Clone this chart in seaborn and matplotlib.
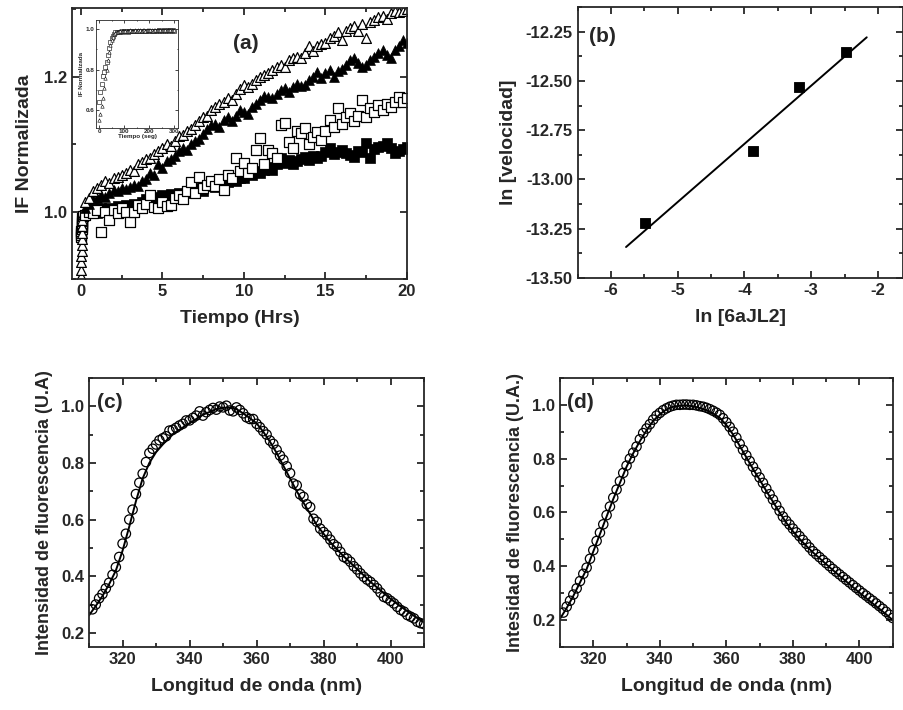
import matplotlib
matplotlib.use("Agg")
import matplotlib.pyplot as plt
import seaborn as sns
from matplotlib.ticker import MultipleLocator, FormatStrFormatter

sns.set_style("ticks")
plt.rcParams['font.family'] = ['Liberation Sans', 'DejaVu Sans']
plt.rcParams['font.weight'] = 'bold'
plt.rcParams['axes.labelweight'] = 'bold'

# ---------------- Panel (a) data ----------------
tiempo_hrs = [0.25, 0.5, 0.75, 1.0, 1.25, 1.5, 1.75, 2.0, 2.25, 2.5, 2.75, 3.0, 3.25, 3.5, 3.75, 4.0,
              4.25, 4.5, 4.75, 5.0, 5.25, 5.5, 5.75, 6.0, 6.25, 6.5, 6.75, 7.0, 7.25, 7.5, 7.75, 8.0,
              8.25, 8.5, 8.75, 9.0, 9.25, 9.5, 9.75, 10.0, 10.25, 10.5, 10.75, 11.0, 11.25, 11.5, 11.75, 12.0,
              12.25, 12.5, 12.75, 13.0, 13.25, 13.5, 13.75, 14.0, 14.25, 14.5, 14.75, 15.0, 15.25, 15.5, 15.75, 16.0,
              16.25, 16.5, 16.75, 17.0, 17.25, 17.5, 17.75, 18.0, 18.25, 18.5, 18.75, 19.0, 19.25, 19.5, 19.75, 20.0]

tri_abierto = [1.015, 1.02, 1.03, 1.035, 1.04, 1.045, 1.043, 1.05, 1.052, 1.055, 1.058, 1.062, 1.06, 1.07, 1.074, 1.078,
               1.08, 1.085, 1.09, 1.095, 1.1, 1.098, 1.105, 1.112, 1.114, 1.12, 1.122, 1.128, 1.134, 1.14, 1.142, 1.15,
               1.155, 1.16, 1.162, 1.168, 1.165, 1.175, 1.182, 1.188, 1.185, 1.19, 1.195, 1.2, 1.203, 1.205, 1.21, 1.214,
               1.218, 1.215, 1.225, 1.228, 1.23, 1.228, 1.235, 1.245, 1.238, 1.245, 1.248, 1.25, 1.258, 1.26, 1.266, 1.255,
               1.268, 1.272, 1.275, 1.268, 1.278, 1.258, 1.282, 1.284, 1.288, 1.29, 1.286, 1.294, 1.298, 1.296, 1.298, 1.3]

tri_lleno = [1.005, 1.012, 1.018, 1.02, 1.025, 1.022, 1.028, 1.032, 1.03, 1.035, 1.033, 1.037, 1.04, 1.038, 1.045, 1.048,
             1.058, 1.055, 1.07, 1.065, 1.075, 1.078, 1.082, 1.09, 1.095, 1.092, 1.1, 1.105, 1.108, 1.115, 1.122, 1.128,
             1.13, 1.125, 1.136, 1.14, 1.135, 1.142, 1.15, 1.148, 1.145, 1.155, 1.16, 1.165, 1.172, 1.17, 1.168, 1.175,
             1.18, 1.183, 1.178, 1.185, 1.19, 1.186, 1.188, 1.195, 1.2, 1.207, 1.198, 1.205, 1.21, 1.2, 1.208, 1.212,
             1.218, 1.225, 1.228, 1.22, 1.215, 1.218, 1.225, 1.23, 1.236, 1.24, 1.232, 1.228, 1.24, 1.245, 1.254, 1.25]

cuad_abierto = [0.995, 1.0, 0.998, 1.002, 0.97, 1.0, 0.988, 1.003, 0.998, 1.005, 1.0, 0.984, 1.0, 1.01, 1.005, 1.012,
                1.025, 1.007, 1.005, 1.015, 1.008, 1.01, 1.02, 1.025, 1.018, 1.03, 1.044, 1.028, 1.052, 1.035, 1.04, 1.045,
                1.038, 1.048, 1.032, 1.055, 1.05, 1.08, 1.06, 1.072, 1.058, 1.065, 1.092, 1.109, 1.07, 1.092, 1.087, 1.08,
                1.128, 1.131, 1.103, 1.095, 1.12, 1.117, 1.124, 1.1, 1.111, 1.118, 1.106, 1.12, 1.136, 1.125, 1.153, 1.13,
                1.14, 1.146, 1.135, 1.142, 1.165, 1.14, 1.153, 1.148, 1.158, 1.15, 1.16, 1.155, 1.163, 1.17, 1.162, 1.168]

cuad_lleno = [0.995, 1.0, 1.004, 0.998, 1.005, 1.0, 1.006, 1.003, 1.008, 1.006, 1.01, 1.007, 1.012, 1.01, 1.015, 1.018,
              1.014, 1.02, 1.022, 1.025, 1.02, 1.026, 1.024, 1.028, 1.025, 1.03, 1.027, 1.032, 1.035, 1.03, 1.038, 1.04,
              1.036, 1.042, 1.045, 1.044, 1.048, 1.046, 1.05, 1.05, 1.058, 1.055, 1.06, 1.058, 1.062, 1.066, 1.062, 1.07,
              1.08, 1.072, 1.077, 1.07, 1.075, 1.078, 1.081, 1.076, 1.082, 1.079, 1.083, 1.088, 1.095, 1.085, 1.089, 1.092,
              1.087, 1.084, 1.081, 1.09, 1.088, 1.102, 1.08, 1.093, 1.096, 1.098, 1.102, 1.094, 1.087, 1.09, 1.093, 1.096]

# early-time stack visible at t ~ 0 in the main panel
inicio_hrs = [0.0, 0.01, 0.02, 0.03, 0.04, 0.05, 0.06, 0.07, 0.08, 0.09, 0.1]
inicio_tri = [0.905, 0.914, 0.925, 0.934, 0.941, 0.951, 0.96, 0.969, 0.978, 0.987, 0.996]
inicio_cuad = [0.962, 0.965, 0.968, 0.971, 0.974, 0.977, 0.98, 0.983, 0.986, 0.99, 0.994]

# Inset (first seconds)
tiempo_seg = [0, 5, 10, 15, 20, 25, 30, 35, 40, 45, 50, 55, 60, 65, 70, 75, 80, 85, 90, 95, 100,
              105, 110, 115, 120, 125, 130, 135, 140, 145, 150, 155, 160, 165, 170, 175, 180, 185, 190, 195, 200,
              205, 210, 215, 220, 225, 230, 235, 240, 245, 250, 255, 260, 265, 270, 275, 280, 285, 290, 295, 300]
inset_tri = [0.55, 0.58, 0.62, 0.66, 0.71, 0.76, 0.80, 0.845, 0.885, 0.92, 0.945, 0.962, 0.975, 0.982, 0.986, 0.988,
             0.99, 0.989, 0.991, 0.99, 0.992, 0.991, 0.993, 0.99, 0.992, 0.994, 0.991, 0.993, 0.992, 0.994, 0.993,
             0.995, 0.992, 0.994, 0.993, 0.995, 0.994, 0.993, 0.995, 0.994, 0.996, 0.994, 0.995, 0.993, 0.996, 0.995,
             0.994, 0.996, 0.995, 0.997, 0.995, 0.996, 0.994, 0.997, 0.996, 0.995, 0.997, 0.996, 0.998, 0.996, 0.997]
inset_cuad = [0.64, 0.69, 0.73, 0.77, 0.79, 0.81, 0.835, 0.87, 0.905, 0.935, 0.955, 0.968, 0.978, 0.984, 0.987, 0.986,
              0.988, 0.987, 0.989, 0.988, 0.99, 0.989, 0.99, 0.988, 0.99, 0.991, 0.989, 0.99, 0.991, 0.99, 0.992,
              0.99, 0.991, 0.992, 0.99, 0.991, 0.993, 0.991, 0.992, 0.99, 0.992, 0.993, 0.991, 0.992, 0.993, 0.991,
              0.993, 0.992, 0.994, 0.992, 0.993, 0.992, 0.994, 0.993, 0.992, 0.994, 0.993, 0.994, 0.992, 0.994, 0.993]

# ---------------- Panel (b) data ----------------
ln_6ajl2 = [-5.486, -3.869, -3.18, -2.482]
ln_velocidad = [-13.221, -12.858, -12.532, -12.355]
ajuste_x = [-5.775, -2.168]
ajuste_y = [-13.343, -12.279]

# ---------------- Panel (c) data ----------------
lambda_c = list(range(311, 411))
circ_c = [0.283, 0.3, 0.322, 0.337, 0.357, 0.377, 0.405, 0.432, 0.468, 0.515, 0.55, 0.6, 0.635, 0.69, 0.73, 0.762,
          0.803, 0.835, 0.85, 0.865, 0.88, 0.887, 0.894, 0.914, 0.917, 0.924, 0.932, 0.938, 0.95, 0.95, 0.959, 0.967,
          0.982, 0.967, 0.979, 0.987, 0.994, 0.988, 0.999, 0.996, 1.002, 0.985, 0.982, 0.996, 0.987, 0.975, 0.961,
          0.955, 0.955, 0.938, 0.926, 0.912, 0.9, 0.879, 0.867, 0.846, 0.826, 0.811, 0.788, 0.764, 0.727, 0.721,
          0.689, 0.68, 0.654, 0.644, 0.603, 0.592, 0.568, 0.556, 0.545, 0.529, 0.513, 0.504, 0.486, 0.468, 0.462,
          0.451, 0.435, 0.424, 0.41, 0.398, 0.388, 0.38, 0.369, 0.357, 0.342, 0.327, 0.322, 0.313, 0.304, 0.292,
          0.281, 0.275, 0.263, 0.257, 0.251, 0.239, 0.234, 0.231]
lambda_linea = list(range(310, 411, 2))
linea_c = [0.262, 0.295, 0.33, 0.372, 0.42, 0.49, 0.575, 0.665, 0.745, 0.8, 0.838, 0.865, 0.89, 0.91, 0.925, 0.94,
           0.955, 0.97, 0.98, 0.99, 0.995, 0.995, 0.99, 0.975, 0.958, 0.94, 0.91, 0.875, 0.835, 0.79, 0.745, 0.7,
           0.66, 0.62, 0.58, 0.55, 0.52, 0.495, 0.47, 0.448, 0.425, 0.403, 0.38, 0.36, 0.34, 0.32, 0.302, 0.285,
           0.268, 0.252, 0.237]

# ---------------- Panel (d) data ----------------
lambda_d = list(range(311, 411))
circ_d = [0.228, 0.25, 0.272, 0.295, 0.318, 0.345, 0.372, 0.395, 0.428, 0.46, 0.494, 0.525, 0.556, 0.59, 0.622,
          0.655, 0.685, 0.716, 0.747, 0.774, 0.8, 0.822, 0.845, 0.872, 0.895, 0.912, 0.928, 0.945, 0.96, 0.97, 0.98,
          0.987, 0.993, 0.997, 1.0, 1.0, 1.001, 1.001, 1.0, 1.0, 0.998, 0.995, 0.993, 0.989, 0.984, 0.978, 0.971,
          0.963, 0.95, 0.935, 0.918, 0.9, 0.878, 0.855, 0.833, 0.812, 0.791, 0.77, 0.75, 0.73, 0.71, 0.689,
          0.668, 0.648, 0.627, 0.606, 0.585, 0.569, 0.555, 0.54, 0.526, 0.512, 0.498, 0.484, 0.47, 0.456, 0.445,
          0.434, 0.423, 0.412, 0.401, 0.39, 0.38, 0.37, 0.36, 0.35, 0.34, 0.33, 0.32, 0.31, 0.3, 0.291, 0.281, 0.272,
          0.262, 0.252, 0.242, 0.231, 0.22, 0.208]
linea_d = [0.205, 0.245, 0.29, 0.34, 0.39, 0.455, 0.52, 0.585, 0.65, 0.71, 0.77, 0.82, 0.865, 0.905, 0.94, 0.965,
           0.983, 0.993, 0.997, 0.998, 0.995, 0.988, 0.98, 0.968, 0.952, 0.925, 0.89, 0.848, 0.805, 0.762, 0.722,
           0.68, 0.64, 0.6, 0.562, 0.53, 0.502, 0.476, 0.452, 0.43, 0.408, 0.386, 0.365, 0.344, 0.323, 0.302,
           0.282, 0.262, 0.242, 0.222, 0.2]

TICK_FS = 12
LAB_FS = 14


def style_axes(ax, lw=1.3, maj=5, mnr=3, fs=TICK_FS):
    for s in ax.spines.values():
        s.set_linewidth(lw)
        s.set_visible(True)
    ax.tick_params(which='both', direction='in', top=True, right=True, width=lw, labelsize=fs)
    ax.tick_params(which='major', length=maj)
    ax.tick_params(which='minor', length=mnr)
    for lab in ax.get_xticklabels() + ax.get_yticklabels():
        lab.set_fontweight('bold')


fig = plt.figure(figsize=(9.04, 7.10), dpi=100)

# ---- (a)
ax_a = fig.add_axes([0.0796, 0.607, 0.3706, 0.3817])
kw_open = dict(facecolor='white', edgecolor='black', linewidth=0.9, s=50)
kw_fill = dict(color='black', edgecolor='black', linewidth=0.5, s=50)
sns.scatterplot(x=inicio_hrs, y=inicio_cuad, marker='s', ax=ax_a, **kw_open)
sns.scatterplot(x=inicio_hrs, y=inicio_tri, marker='^', ax=ax_a, **kw_open)
sns.scatterplot(x=tiempo_hrs, y=cuad_lleno, marker='s', ax=ax_a, **kw_fill)
sns.scatterplot(x=tiempo_hrs, y=cuad_abierto, marker='s', ax=ax_a, **kw_open)
sns.scatterplot(x=tiempo_hrs, y=tri_lleno, marker='^', ax=ax_a, **kw_fill)
sns.scatterplot(x=tiempo_hrs, y=tri_abierto, marker='^', ax=ax_a, **kw_open)
ax_a.set_xlim(-0.55, 20)
ax_a.set_ylim(0.9, 1.302)
ax_a.xaxis.set_major_locator(MultipleLocator(5))
ax_a.xaxis.set_minor_locator(MultipleLocator(2.5))
ax_a.yaxis.set_major_locator(MultipleLocator(0.2))
ax_a.yaxis.set_minor_locator(MultipleLocator(0.1))
ax_a.yaxis.set_major_formatter(FormatStrFormatter('%.1f'))
ax_a.set_xlabel('Tiempo (Hrs)', fontsize=LAB_FS, fontweight='bold', labelpad=8)
ax_a.set_ylabel('IF Normalizada', fontsize=LAB_FS, fontweight='bold', labelpad=8)
style_axes(ax_a)
ax_a.text(0.52, 0.87, '(a)', transform=ax_a.transAxes, fontsize=15, fontweight='bold', ha='center', va='center')

# inset
ax_in = fig.add_axes([0.1062, 0.8197, 0.0907, 0.152])
kw_in = dict(facecolor='white', edgecolor='black', linewidth=0.4, s=6)
sns.scatterplot(x=tiempo_seg, y=inset_cuad, marker='s', ax=ax_in, **kw_in)
sns.scatterplot(x=tiempo_seg, y=inset_tri, marker='^', ax=ax_in, **kw_in)
ax_in.set_xlim(-12, 315)
ax_in.set_ylim(0.51, 1.045)
ax_in.xaxis.set_major_locator(MultipleLocator(100))
ax_in.xaxis.set_minor_locator(MultipleLocator(50))
ax_in.yaxis.set_major_locator(MultipleLocator(0.2))
ax_in.yaxis.set_minor_locator(MultipleLocator(0.1))
ax_in.yaxis.set_major_formatter(FormatStrFormatter('%.1f'))
ax_in.set_xlabel('Tiempo (seg)', fontsize=4.5, fontweight='bold', labelpad=0)
ax_in.set_ylabel('IF Normalizada', fontsize=4.5, fontweight='bold', labelpad=1)
style_axes(ax_in, lw=0.6, maj=2, mnr=1, fs=4.5)
ax_in.tick_params(pad=1)

# ---- (b)
ax_b = fig.add_axes([0.639, 0.6085, 0.3595, 0.3817])
sns.lineplot(x=ajuste_x, y=ajuste_y, color='black', linewidth=1.4, ax=ax_b)
sns.scatterplot(x=ln_6ajl2, y=ln_velocidad, marker='s', color='black', edgecolor='black', s=60, ax=ax_b)
ax_b.set_xlim(-6.5, -1.63)
ax_b.set_ylim(-13.5, -12.125)
ax_b.xaxis.set_major_locator(MultipleLocator(1))
ax_b.xaxis.set_minor_locator(MultipleLocator(0.5))
ax_b.yaxis.set_major_locator(MultipleLocator(0.25))
ax_b.yaxis.set_minor_locator(MultipleLocator(0.125))
ax_b.yaxis.set_major_formatter(FormatStrFormatter('%.2f'))
ax_b.xaxis.set_major_formatter(FormatStrFormatter('%d'))
ax_b.set_xlabel('ln [6aJL2]', fontsize=LAB_FS, fontweight='bold', labelpad=8)
ax_b.set_ylabel('ln [velocidad]', fontsize=LAB_FS, fontweight='bold', labelpad=6)
style_axes(ax_b)
ax_b.text(0.075, 0.89, '(b)', transform=ax_b.transAxes, fontsize=15, fontweight='bold', ha='center', va='center')

# ---- (c)
ax_c = fig.add_axes([0.0985, 0.0887, 0.3706, 0.379])
sns.lineplot(x=lambda_linea, y=linea_c, color='black', linewidth=1.4, ax=ax_c)
sns.scatterplot(x=lambda_c, y=circ_c, marker='o', facecolor='none', edgecolor='black', linewidth=0.9, s=45, ax=ax_c)
ax_c.set_xlim(310, 410)
ax_c.set_ylim(0.15, 1.1)
ax_c.xaxis.set_major_locator(MultipleLocator(20))
ax_c.xaxis.set_minor_locator(MultipleLocator(10))
ax_c.yaxis.set_minor_locator(MultipleLocator(0.1))
ax_c.set_yticks([0.2, 0.4, 0.6, 0.8, 1.0])
ax_c.yaxis.set_major_formatter(FormatStrFormatter('%.1f'))
ax_c.set_xlabel('Longitud de onda (nm)', fontsize=LAB_FS, fontweight='bold', labelpad=8)
ax_c.set_ylabel('Intensidad de fluorescencia (U.A)', fontsize=13, fontweight='bold', labelpad=6)
style_axes(ax_c)
ax_c.text(0.063, 0.907, '(c)', transform=ax_c.transAxes, fontsize=15, fontweight='bold', ha='center', va='center')

# ---- (d)
ax_d = fig.add_axes([0.6195, 0.0887, 0.368, 0.379])
sns.lineplot(x=lambda_linea, y=linea_d, color='black', linewidth=1.4, ax=ax_d)
sns.scatterplot(x=lambda_d, y=circ_d, marker='o', facecolor='none', edgecolor='black', linewidth=0.9, s=45, ax=ax_d)
ax_d.set_xlim(310, 410)
ax_d.set_ylim(0.1, 1.1)
ax_d.xaxis.set_major_locator(MultipleLocator(20))
ax_d.xaxis.set_minor_locator(MultipleLocator(10))
ax_d.yaxis.set_minor_locator(MultipleLocator(0.1))
ax_d.set_yticks([0.2, 0.4, 0.6, 0.8, 1.0])
ax_d.yaxis.set_major_formatter(FormatStrFormatter('%.1f'))
ax_d.set_xlabel('Longitud de onda (nm)', fontsize=LAB_FS, fontweight='bold', labelpad=8)
ax_d.set_ylabel('Intesidad de fluorescencia (U.A.)', fontsize=13, fontweight='bold', labelpad=6)
style_axes(ax_d)
ax_d.text(0.06, 0.907, '(d)', transform=ax_d.transAxes, fontsize=15, fontweight='bold', ha='center', va='center')

for ax in [ax_a, ax_b, ax_c, ax_d, ax_in]:
    if ax.get_legend() is not None:
        ax.get_legend().remove()

fig.savefig('out.png', dpi=100, facecolor='white')
